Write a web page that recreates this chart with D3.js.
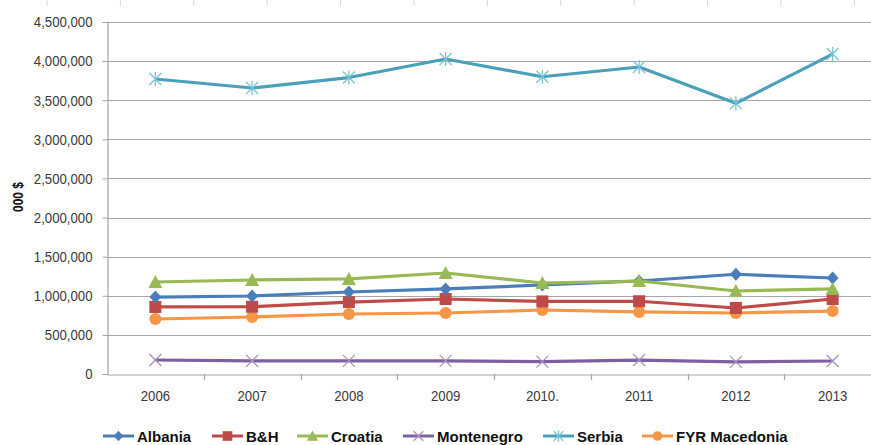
<!DOCTYPE html>
<html><head><meta charset="utf-8">
<script src="https://cdn.jsdelivr.net/npm/d3@7"></script>
<style>
html,body{margin:0;padding:0;background:#fff;}
svg{display:block;font-family:"Liberation Sans",Arial,sans-serif;}
</style></head>
<body><svg id="c" width="871" height="445"></svg>
<script>
const years = ["2006","2007","2008","2009","2010.","2011","2012","2013"];
const yTicks = [0,500000,1000000,1500000,2000000,2500000,3000000,3500000,4000000,4500000];
const albania    = [984000, 997000, 1048000, 1087000, 1138000, 1189000, 1275000, 1227000];
const bh         = [857000, 860000, 920000, 959000, 928000, 930000, 844000, 959000];
const croatia    = [1176000, 1202000, 1215000, 1291000, 1163000, 1189000, 1061000, 1087000];
const montenegro = [179000, 168000, 168000, 168000, 158000, 178000, 155000, 166000];
const serbia     = [3771000, 3656000, 3790000, 4027000, 3800000, 3925000, 3460000, 4090000];
const fyrMacedonia = [703000, 729000, 767000, 780000, 818000, 793000, 780000, 805000];
const seriesNames = ["Albania","B&H","Croatia","Montenegro","Serbia","FYR Macedonia"];
const seriesColors = ["#4a7ebb","#be4b48","#98b954","#7d60a0","#4aa0b8","#f79646"];
const seriesMarkers = ["diamond","square","triangle","x","star","circle"];
const seriesValues = [albania, bh, croatia, montenegro, serbia, fyrMacedonia];

const svg = d3.select("#c");
const pLeft = 107, pRight = 881, pTop = 22, pBottom = 374;
const narrow = 0.88;

const x = d3.scaleBand().domain(years).range([pLeft, pRight]);
const y = d3.scaleLinear().domain([0, 4500000]).range([pBottom, pTop]);

// faint ticks at very top (remnant of cropped chart above)
svg.append("g").selectAll("line").data(d3.range(47, 871, 73.4)).join("line")
  .attr("x1", d => d).attr("x2", d => d).attr("y1", 0).attr("y2", 6)
  .attr("stroke", "#d8d8d8").attr("stroke-width", 1);

// gridlines
svg.append("g").selectAll("line").data(yTicks.filter(v => v > 0)).join("line")
  .attr("x1", pLeft).attr("x2", pRight)
  .attr("y1", d => Math.round(y(d)) + 0.5).attr("y2", d => Math.round(y(d)) + 0.5)
  .attr("stroke", "#a6a6a6").attr("stroke-width", 1.2);

// y axis
const yAxis = d3.axisLeft(y).tickValues(yTicks).tickSize(5).tickPadding(10)
  .tickFormat(d3.format(","));
const gy = svg.append("g").attr("transform", `translate(${pLeft + 0.5},0)`).call(yAxis);
gy.select(".domain").attr("stroke", "#a6a6a6").attr("stroke-width", 1.2);
gy.selectAll(".tick line").attr("stroke", "#a6a6a6");
gy.selectAll(".tick text").attr("fill", "#3a3a3a").style("font-size", "15px")
  .each(function() {
    const t = d3.select(this); const tx = +t.attr("x");
    t.attr("x", 0).attr("transform", `translate(${tx},0) scale(${narrow},1)`);
  });

// x axis
const xAxis = d3.axisBottom(x).tickSize(0).tickPadding(16);
const gx = svg.append("g").attr("transform", `translate(0,${pBottom + 0.5})`).call(xAxis);
gx.select(".domain").attr("stroke", "#a6a6a6").attr("stroke-width", 1.2);
gx.selectAll(".tick text").attr("fill", "#3a3a3a").style("font-size", "15px")
  .attr("transform", `scale(${narrow},1)`);
// band boundary ticks
svg.append("g").selectAll("line").data(years.slice(1)).join("line")
  .attr("x1", d => Math.round(x(d)) + 0.5).attr("x2", d => Math.round(x(d)) + 0.5)
  .attr("y1", pBottom).attr("y2", pBottom + 6)
  .attr("stroke", "#a6a6a6").attr("stroke-width", 1.2);

// y title
svg.append("text").attr("transform", "translate(23,197) rotate(-90) scale(0.85,1)")
  .attr("text-anchor", "middle").attr("font-weight", "bold")
  .style("font-size", "14px").attr("fill", "#111").text("000 $");

function marker(g, type, color, cx, cy, k) {
  k = k || 1;
  const s = 6 * k;
  if (type === "diamond") {
    g.append("path").attr("d", `M${cx},${cy-6.5*k}L${cx+6*k},${cy}L${cx},${cy+6.5*k}L${cx-6*k},${cy}Z`)
      .attr("fill", color);
  } else if (type === "square") {
    g.append("rect").attr("x", cx - s).attr("y", cy - s).attr("width", 2 * s).attr("height", 2 * s).attr("fill", color);
  } else if (type === "triangle") {
    g.append("path").attr("d", `M${cx},${cy-7*k}L${cx+7*k},${cy+6*k}L${cx-7*k},${cy+6*k}Z`).attr("fill", color);
  } else if (type === "circle") {
    g.append("circle").attr("cx", cx).attr("cy", cy).attr("r", s).attr("fill", color);
  } else if (type === "x") {
    g.append("path").attr("d", `M${cx-s},${cy-s}L${cx+s},${cy+s}M${cx-s},${cy+s}L${cx+s},${cy-s}`)
      .attr("stroke", "#a993c4").attr("stroke-width", 1.3).attr("fill", "none");
  } else if (type === "star") {
    g.append("path").attr("d", `M${cx-s},${cy-s}L${cx+s},${cy+s}M${cx-s},${cy+s}L${cx+s},${cy-s}M${cx},${cy-s-1}L${cx},${cy+s+1}`)
      .attr("stroke", "#7cc3d8").attr("stroke-width", 1.3).attr("fill", "none");
  }
}

const line = d3.line().x((d, i) => x(years[i]) + x.bandwidth() / 2).y(d => y(d));
const order = [4, 3, 5, 1, 0, 2];
order.forEach(si => {
  const g = svg.append("g");
  g.append("path").datum(seriesValues[si]).attr("d", line)
    .attr("fill", "none").attr("stroke", seriesColors[si]).attr("stroke-width", 3.2)
    .attr("stroke-linejoin", "round");
  seriesValues[si].forEach((v, i) => marker(g, seriesMarkers[si], seriesColors[si], x(years[i]) + x.bandwidth() / 2, y(v)));
});

// legend
const legX = [103, 212, 297, 403, 543, 642];
const ly = 436;
seriesNames.forEach((n, i) => {
  const g = svg.append("g");
  g.append("line").attr("x1", legX[i]).attr("x2", legX[i] + 31).attr("y1", ly).attr("y2", ly)
    .attr("stroke", seriesColors[i]).attr("stroke-width", 3);
  marker(g, seriesMarkers[i], seriesColors[i], legX[i] + 15.5, ly, 0.8);
  g.append("text").attr("x", legX[i] + 34).attr("y", ly + 5.5)
    .attr("font-weight", "bold").style("font-size", "15px").attr("fill", "#111").text(n);
});
</script></body></html>
